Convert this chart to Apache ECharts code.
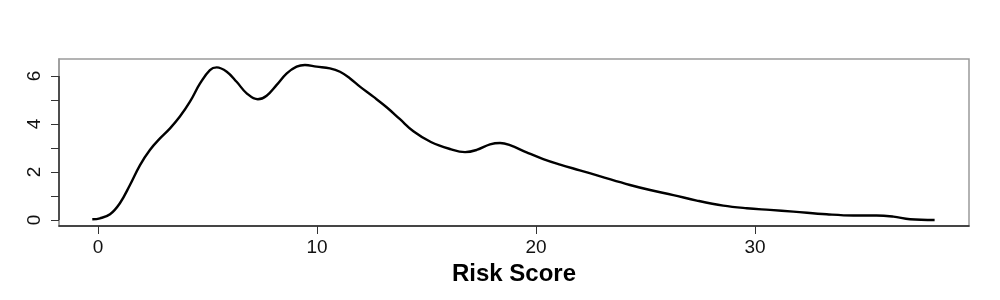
<!DOCTYPE html>
<html>
<head>
<meta charset="utf-8">
<script src="https://cdn.jsdelivr.net/npm/echarts@6/dist/echarts.min.js"></script>
<style>html,body{margin:0;padding:0;background:#fff}#c{width:1000px;height:300px}</style>
</head>
<body>
<div id="c"></div>
<script>
var riskScore = [-0.26,0.09,0.55,1.0,1.46,1.92,2.37,2.83,3.29,3.74,4.2,4.66,5.11,5.42,5.88,6.33,6.79,7.3,7.7,8.16,8.62,9.07,9.45,9.98,10.59,11.05,11.51,11.96,12.57,13.18,13.79,14.4,15.2,16.07,16.76,17.29,17.9,18.36,18.81,19.57,20.33,21.1,22.0,22.9,24.29,25.21,26.27,27.34,28.55,29.62,30.68,31.75,33.27,34.49,35.55,36.32,37.08,38.2];
var density = [0.03,0.07,0.24,0.7,1.46,2.29,2.92,3.4,3.82,4.31,4.93,5.69,6.25,6.36,6.18,5.76,5.28,5.03,5.18,5.63,6.11,6.39,6.46,6.39,6.32,6.18,5.9,5.56,5.14,4.7,4.2,3.7,3.25,2.96,2.83,2.92,3.15,3.21,3.12,2.82,2.54,2.31,2.07,1.83,1.46,1.25,1.04,0.81,0.6,0.49,0.42,0.35,0.24,0.19,0.19,0.14,0.03,0.0];
var xTicks = [0,10,20,30];
var yTicks = [0,1,2,3,4,5,6];
var yLabels = [0,2,4,6];
var xTitle = 'Risk Score';

var pts = riskScore.map(function(x,i){return [x,density[i]];});
var xMin = -1.78, xMax = 39.77, yMin = -0.25, yMax = 6.71;
var chart = echarts.init(document.getElementById('c'), null, {renderer:'canvas'});
chart.setOption({
  animation:false,
  grid:{left:59,right:31,top:59,bottom:74,show:true,borderColor:'#9a9a9a',borderWidth:1.5,backgroundColor:'transparent'},
  xAxis:{type:'value',min:xMin,max:xMax,
    name:xTitle,nameLocation:'middle',nameGap:36,
    nameTextStyle:{fontFamily:'Liberation Sans',fontWeight:'bold',fontSize:24,color:'#000'},
    axisLine:{show:true,onZero:false,lineStyle:{color:'#222',width:1.5}},
    axisTick:{show:true,length:8,customValues:xTicks,lineStyle:{color:'#333',width:1}},
    axisLabel:{customValues:xTicks,margin:12,fontFamily:'Liberation Sans',fontSize:19,color:'#111'},
    splitLine:{show:false}},
  yAxis:{type:'value',min:yMin,max:yMax,
    axisLine:{show:true,onZero:false,lineStyle:{color:'#9a9a9a',width:1.5}},
    axisTick:{show:true,length:8,customValues:yTicks,lineStyle:{color:'#333',width:1}},
    axisLabel:{customValues:yLabels,rotate:90,margin:15,fontFamily:'Liberation Sans',fontSize:19,color:'#111'},
    splitLine:{show:false}},
  series:[{type:'line',data:pts,smooth:0.4,showSymbol:false,symbol:'none',
    lineStyle:{color:'#000',width:2.4},
    markLine:{silent:true,symbol:'none',label:{show:false},
      lineStyle:{color:'#333',width:1.5,type:'solid'},
      data:[[{coord:[xMin,yTicks[0]]},{coord:[xMin,yTicks[yTicks.length-1]]}]]}
  }]
});
</script>
</body>
</html>
